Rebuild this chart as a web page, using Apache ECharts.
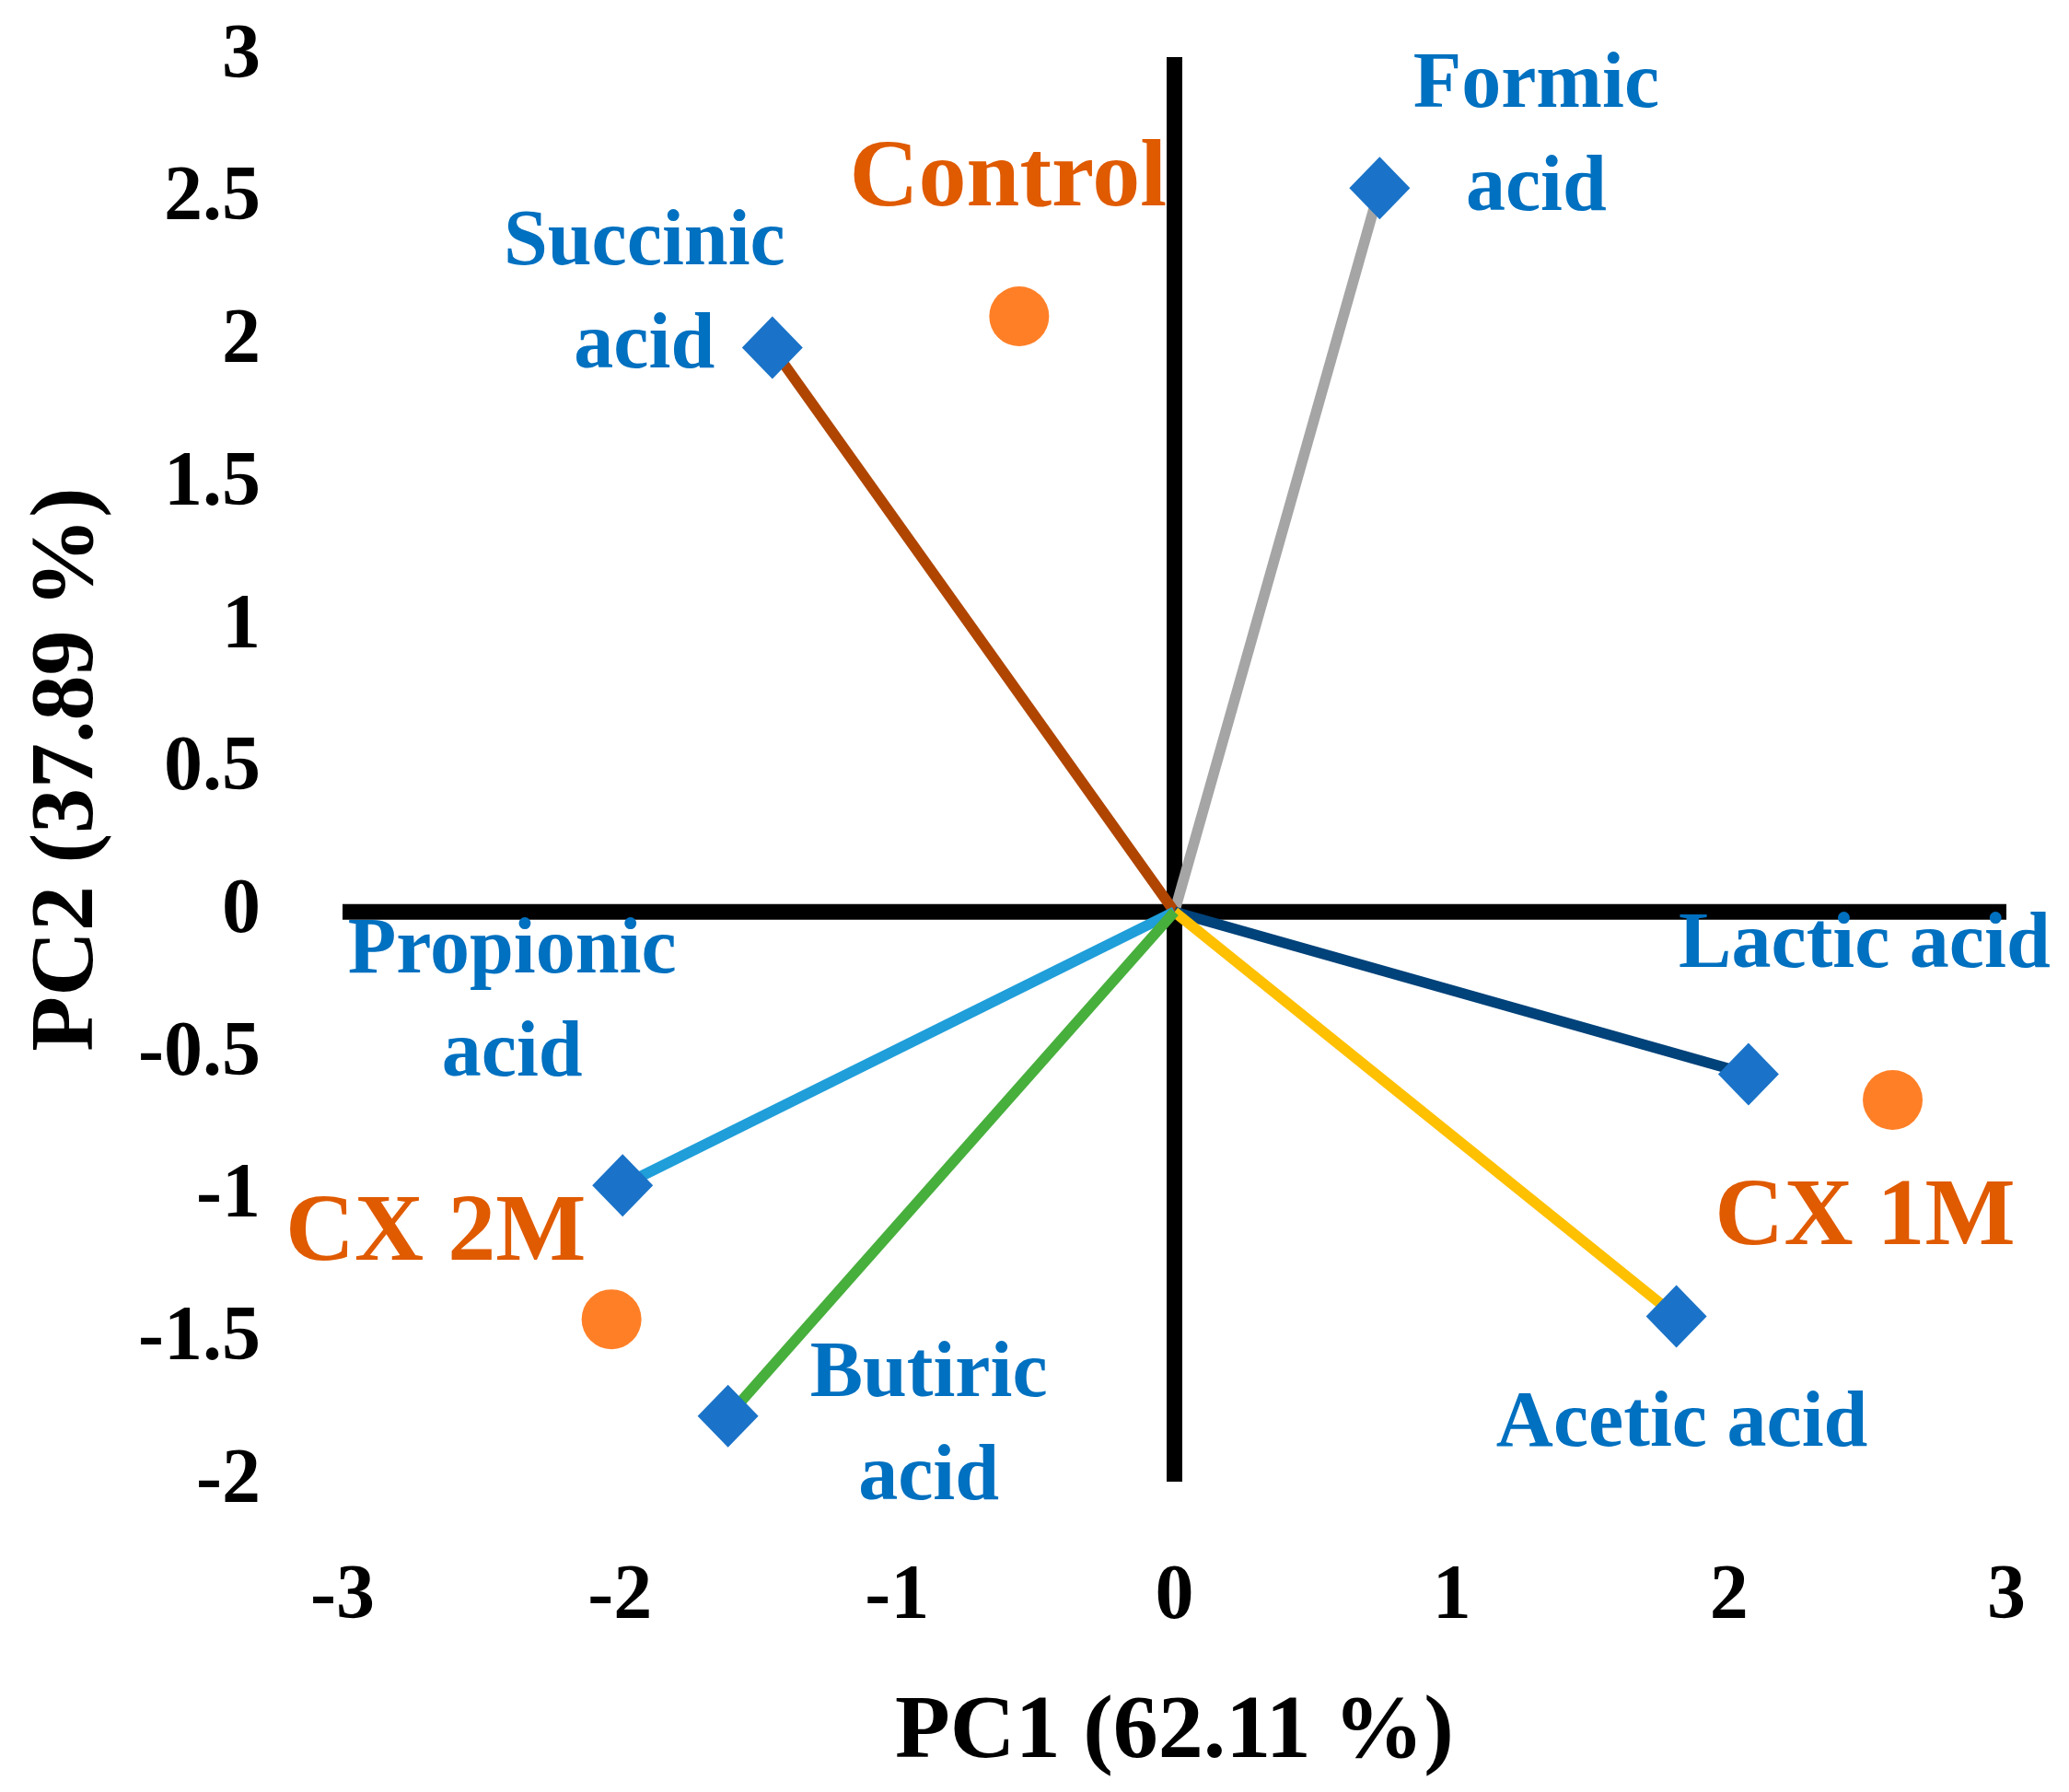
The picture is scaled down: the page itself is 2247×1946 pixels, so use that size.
<!DOCTYPE html>
<html>
<head>
<meta charset="utf-8">
<script src="https://cdn.jsdelivr.net/npm/echarts@6/dist/echarts.min.js"></script>
<style>
html,body{margin:0;padding:0;background:#fff;}
#chart{width:2247px;height:1946px;}
</style>
</head>
<body>
<div id="chart"></div>
<script>
// ---- data ----
const loadingNames = ['Formic acid', 'Succinic acid', 'Lactic acid', 'Acetic acid', 'Propionic acid', 'Butiric acid'];
const loadingPC1 = [0.74, -1.45, 2.07, 1.81, -1.99, -1.61];
const loadingPC2 = [2.54, 1.98, -0.57, -1.42, -0.96, -1.77];
const scoreNames = ['Control', 'CX 1M', 'CX 2M'];
const scorePC1 = [-0.56, 2.59, -2.03];
const scorePC2 = [2.09, -0.66, -1.43];
const xTicks = [-3, -2, -1, 0, 1, 2, 3];
const yTicks = [-2, -1.5, -1, -0.5, 0, 0.5, 1, 1.5, 2, 2.5, 3];
const xAxisTitle = 'PC1 (62.11 %)';
const yAxisTitle = 'PC2 (37.89 %)';

// ---- styles / layout ----
const FONT = 'Liberation Serif';
const lineColors = {
  'Formic acid': '#A5A5A5',
  'Succinic acid': '#B04500',
  'Lactic acid': '#00427A',
  'Acetic acid': '#FFC000',
  'Propionic acid': '#1F9ED9',
  'Butiric acid': '#47AF3C'
};
const labelText = {
  'Formic acid': 'Formic\nacid',
  'Succinic acid': 'Succinic\nacid',
  'Lactic acid': 'Lactic acid',
  'Acetic acid': 'Acetic acid',
  'Propionic acid': 'Propionic\nacid',
  'Butiric acid': 'Butiric\nacid'
};
const labelOffset = {
  'Formic acid': [170, -55],
  'Succinic acid': [-139, -57],
  'Lactic acid': [126, -139],
  'Acetic acid': [6, 118],
  'Propionic acid': [-120, -197],
  'Butiric acid': [218, 12],
  'Control': [-12, -147],
  'CX 1M': [-30, 130],
  'CX 2M': [-191, -92]
};

const xMin = xTicks[0], xMax = xTicks[xTicks.length - 1];
const yMin = yTicks[0], yMax = yTicks[yTicks.length - 1];

const series = [];
// cross axis lines through the origin
series.push({
  type: 'line', data: [[xMin, 0], [xMax, 0]], showSymbol: false, symbol: 'none',
  lineStyle: { color: '#000', width: 17, cap: 'butt' }, z: 1, silent: true
});
series.push({
  type: 'line', data: [[0, yMax], [0, yMin]], showSymbol: false, symbol: 'none',
  lineStyle: { color: '#000', width: 17, cap: 'butt' }, z: 1, silent: true
});
// loading vectors
loadingNames.forEach((n, i) => {
  series.push({
    type: 'line', name: n, data: [[0, 0], [loadingPC1[i], loadingPC2[i]]],
    showSymbol: false, symbol: 'none',
    lineStyle: { color: lineColors[n], width: 11.5, cap: 'butt' }, z: 2, silent: true
  });
});
// loading diamonds with labels
series.push({
  type: 'scatter', symbol: 'diamond', symbolSize: [66, 68], z: 3,
  itemStyle: { color: '#1A73C8', opacity: 1 },
  data: loadingNames.map((n, i) => ({
    name: n, value: [loadingPC1[i], loadingPC2[i]],
    label: {
      show: true, position: 'inside', offset: labelOffset[n],
      formatter: labelText[n], color: '#0070C0', opacity: 1,
      fontFamily: FONT, fontWeight: 'bold', fontSize: 86, lineHeight: 112,
      align: 'center', verticalAlign: 'middle'
    }
  }))
});
// score points
series.push({
  type: 'scatter', symbol: 'circle', symbolSize: 65, z: 3,
  itemStyle: { color: '#FF7F27', opacity: 1 },
  data: scoreNames.map((n, i) => ({
    name: n, value: [scorePC1[i], scorePC2[i]],
    label: {
      show: true, position: 'inside', offset: labelOffset[n],
      formatter: n, color: '#E05A00', opacity: 1,
      fontFamily: FONT, fontWeight: 'bold', fontSize: 104, lineHeight: 104,
      align: 'center', verticalAlign: 'middle'
    }
  }))
});

const chart = echarts.init(document.getElementById('chart'), null, { renderer: 'canvas' });
chart.setOption({
  animation: false,
  backgroundColor: '#ffffff',
  grid: { left: 372, right: 68, top: 62, bottom: 337 },
  xAxis: {
    type: 'value', min: xMin, max: xMax, interval: 1,
    axisLine: { show: false, onZero: false }, axisTick: { show: false }, splitLine: { show: false },
    axisLabel: { margin: 84, color: '#000', fontFamily: FONT, fontWeight: 'bold', fontSize: 84, lineHeight: 84 },
    name: xAxisTitle, nameLocation: 'middle', nameGap: 225,
    nameTextStyle: { color: '#000', fontFamily: FONT, fontWeight: 'bold', fontSize: 98, lineHeight: 98 }
  },
  yAxis: {
    type: 'value', min: yMin, max: yMax, interval: 0.5,
    axisLine: { show: false, onZero: false }, axisTick: { show: false }, splitLine: { show: false },
    axisLabel: { margin: 89, color: '#000', fontFamily: FONT, fontWeight: 'bold', fontSize: 84 },
    name: yAxisTitle, nameLocation: 'middle', nameGap: 248,
    nameTextStyle: { color: '#000', fontFamily: FONT, fontWeight: 'bold', fontSize: 98, lineHeight: 98 }
  },
  series: series
});
</script>
</body>
</html>
